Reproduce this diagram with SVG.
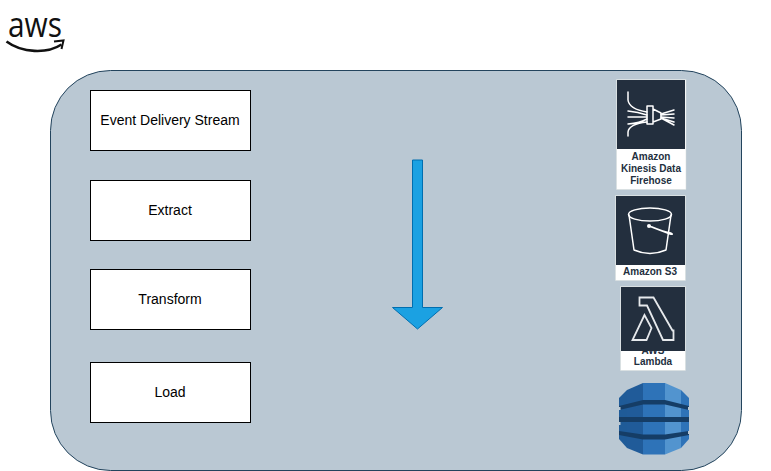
<svg xmlns="http://www.w3.org/2000/svg" width="771" height="471" viewBox="0 0 771 471">
<style>
text{font-family:"Liberation Sans",Arial,sans-serif;text-anchor:middle}
.box{fill:#fff;stroke:#000;stroke-width:1}
.lbl{font-size:14px;fill:#000;font-family:"Liberation Sans",Arial,sans-serif}
.svc{font-size:10px;font-weight:bold;fill:#232f3e}
.card{fill:#fff;stroke:#d5dbdb;stroke-width:.5}
.tile{fill:#232f3e}
.ic{fill:none;stroke:#fff;stroke-width:1.500;stroke-linejoin:round;stroke-linecap:round}
</style>
<rect width="771" height="471" fill="#fff"/>
<g id="aws-logo">
<text x="35" y="36.500" style="font-size:35px;font-family:'Open Sans','Liberation Sans',sans-serif" fill="#111" textLength="54" lengthAdjust="spacingAndGlyphs">aws</text>
<path d="M6.500 41.500C22 53 47 54 61.500 44.500" fill="none" stroke="#111" stroke-width="2.600"/>
<path d="M54 41.500L63.500 40.500L61.500 49" fill="none" stroke="#111" stroke-width="2"/>
</g>
<g id="container"><rect x="50.500" y="70.500" width="691" height="400" rx="60" ry="60" fill="#bac8d3" stroke="#23445d"/></g>
<g id="event-delivery-stream"><rect class="box" x="90.500" y="90.500" width="160" height="60"/><text class="lbl" x="170" y="125">Event Delivery Stream</text></g>
<g id="extract"><rect class="box" x="90.500" y="180.500" width="160" height="60"/><text class="lbl" x="170" y="215">Extract</text></g>
<g id="transform"><rect class="box" x="90.500" y="269.500" width="160" height="60"/><text class="lbl" x="170" y="304">Transform</text></g>
<g id="load"><rect class="box" x="90.500" y="362.500" width="160" height="60"/><text class="lbl" x="170" y="397">Load</text></g>
<g id="connectors"><path d="M412.500 160H422.500V307.500H442.500L417.500 329L392.500 307.500H412.500Z" fill="#1ba1e2" stroke="#006eaf"/></g>
<g id="firehose">
<rect class="card" x="616.500" y="79.500" width="69.500" height="110"/>
<rect class="tile" x="617" y="80" width="68" height="69"/>
<g class="ic">
<path d="M628 92V100Q629 109 647 112M628 111Q638 112 647 115M628 117H647M628 124Q640 123 647 119M628 136V132Q629 124 647 122"/>
<path d="M647 106H653V124H647ZM653 109L661 113V119L653 122Z"/>
<path d="M661 114L674 110M661 115L674 114M661 117L674 118M661 118L674 122M661 118L674 125"/>
</g>
<text class="svc" x="651" y="160">Amazon</text><text class="svc" x="651" y="172">Kinesis Data</text><text class="svc" x="651" y="184">Firehose</text>
</g>
<g id="s3">
<rect class="card" x="615.500" y="195.500" width="70" height="85"/>
<rect class="tile" x="616" y="196" width="69" height="69"/>
<g class="ic">
<ellipse cx="650" cy="214.500" rx="21.500" ry="6.500"/>
<path d="M629 215L634 250Q650 257 666 250L671 215"/>
<path d="M649 226L670 234Q674 235 671 233Q664 232 652 227"/>
</g>
<circle cx="649" cy="226" r="2" fill="#fff"/>
<text class="svc" x="650" y="275">Amazon S3</text>
</g>
<g id="lambda">
<rect class="card" x="620.500" y="286.500" width="65" height="84"/>
<text class="svc" x="653" y="353.500">AWS</text>
<rect class="tile" x="621" y="287" width="64" height="64"/>
<path d="M639.500 297.500H653.500L672.500 330.500H673.500V340H663L647 305.500H639.500ZM644.500 315L632.500 340H646.500L651.500 328Z" fill="none" stroke="#e6e9ec" stroke-width="1.800"/>
<text class="svc" x="653" y="365">Lambda</text>
</g>
<g id="dynamodb">
<path d="M643 383H665V454.500H643Z" fill="#2e73b8"/>
<path d="M665 383L681 390V448L665 454.500Z" fill="#5294cf"/>
<path d="M681 390L689 398V439L681 448Z" fill="#2e73b8"/>
<path d="M643 383L627 390V448L643 454.500Z" fill="#205b99"/>
<path d="M627 390L619 398V439L627 448Z" fill="#1f5b98"/>
<path d="M619 406L643 400H665L689 406V410L665 404.500H643L619 410ZM619 417H689V422H619ZM619 431L643 434.500H665L689 431V435L665 439.500H643L619 435Z" fill="#153d66"/>
<path d="M618 407H620.500V410H618ZM618 422H620.500V425H618ZM688 431H690V434H688ZM688 407H690V410H688Z" fill="#bac8d3"/>
</g>
</svg>
